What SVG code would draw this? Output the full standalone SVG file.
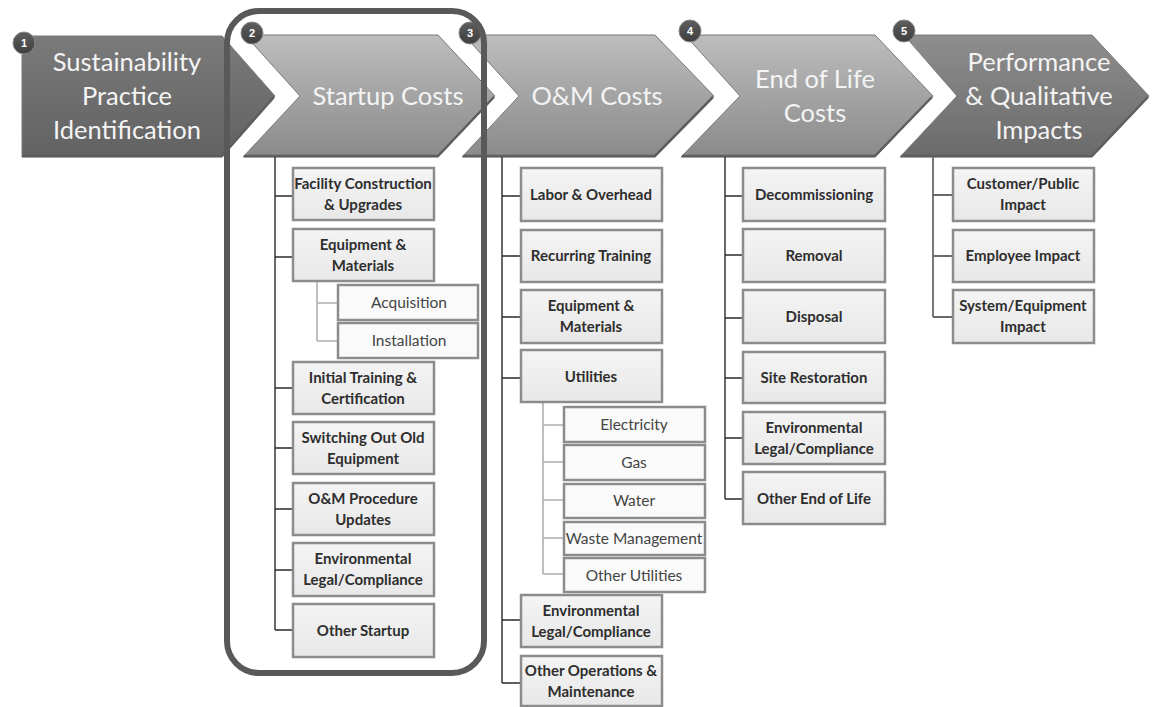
<svg xmlns="http://www.w3.org/2000/svg" width="1156" height="707" viewBox="0 0 1156 707">
<style>
.chev{stroke:#7a7a7a;stroke-width:1}
.edge{stroke:#5e5e5e;stroke-width:2.5;fill:none}
.ct{font-family:Lato,"Liberation Sans",sans-serif;font-size:25.5px;fill:#f4f4f4;text-anchor:middle}
.badge{fill:url(#gb);stroke:#888;stroke-width:1}
.bt{font-family:"Liberation Sans",sans-serif;font-size:11px;font-weight:bold;fill:#fff;text-anchor:middle}
.box{fill:url(#gbox);stroke:#8c8c8c;stroke-width:2.5}
.sub{fill:#fafafa;stroke:#8c8c8c;stroke-width:2.5}
.t{font-family:Lato,"Liberation Sans",sans-serif;font-size:15px;font-weight:bold;fill:#2e2e2e;text-anchor:middle}
.ts{font-family:Lato,"Liberation Sans",sans-serif;font-size:15.5px;fill:#444;text-anchor:middle}
.main{stroke:#2a2a2a;stroke-width:1.4;fill:none}
.minor{stroke:#b0b0b0;stroke-width:1.6;fill:none}
.grey{stroke:#6a6a6a;stroke-width:1.8;fill:none}
</style>
<defs>
<linearGradient id="g1" x1="0" y1="0" x2="0" y2="1"><stop offset="0" stop-color="#7a7a7a"/><stop offset="1" stop-color="#626262"/></linearGradient>
<linearGradient id="g2" x1="0" y1="0" x2="0" y2="1"><stop offset="0" stop-color="#bdbdbd"/><stop offset="1" stop-color="#8a8a8a"/></linearGradient>
<linearGradient id="g5" x1="0" y1="0" x2="0" y2="1"><stop offset="0" stop-color="#8e8e8e"/><stop offset="1" stop-color="#6a6a6a"/></linearGradient>
<linearGradient id="gb" x1="0" y1="0" x2="0" y2="1"><stop offset="0" stop-color="#5e5e5e"/><stop offset="1" stop-color="#3e3e3e"/></linearGradient>
<linearGradient id="gbox" x1="0" y1="0" x2="0" y2="1"><stop offset="0" stop-color="#f4f4f4"/><stop offset="1" stop-color="#e8e8e8"/></linearGradient>
</defs>
<rect width="1156" height="707" fill="#fff"/>

<g id="chevron1">
<polygon class="chev" fill="url(#g1)" points="22,36 222,36 275,96 222,157 22,157"/>
<path class="edge" d="M22,156H222L274,97"/>
<text class="ct" x="127" y="71">Sustainability</text>
<text class="ct" x="127" y="105">Practice</text>
<text class="ct" x="127" y="139">Identification</text>
<circle class="badge" cx="24" cy="43" r="11"/><text class="bt" x="24" y="47">1</text>
</g>
<g id="chevron2">
<polygon class="chev" fill="url(#g2)" points="245,35 438,35 495,96 438,157 243,157 300,96"/>
<path class="edge" d="M244,156H438L494,97"/>
<text class="ct" x="388" y="105">Startup Costs</text>
<circle class="badge" cx="252" cy="33" r="11"/><text class="bt" x="252" y="37">2</text>
</g>
<g id="chevron3">
<polygon class="chev" fill="url(#g2)" points="464,35 655,35 714,96 655,157 462,157 519,96"/>
<path class="edge" d="M463,156H655L713,97"/>
<text class="ct" x="597" y="105">O&amp;M Costs</text>
<circle class="badge" cx="470" cy="33" r="11"/><text class="bt" x="470" y="37">3</text>
</g>
<g id="chevron4">
<polygon class="chev" fill="url(#g2)" points="685,35 875,35 933,96 875,157 681,157 740,96"/>
<path class="edge" d="M682,156H875L932,97"/>
<text class="ct" x="815" y="88">End of Life</text>
<text class="ct" x="815" y="122">Costs</text>
<circle class="badge" cx="690" cy="31" r="11"/><text class="bt" x="690" y="35">4</text>
</g>
<g id="chevron5">
<polygon class="chev" fill="url(#g5)" points="904,35 1092,35 1149,96 1092,157 900,157 957,96"/>
<path class="edge" d="M901,156H1092L1148,97"/>
<text class="ct" x="1039" y="71">Performance</text>
<text class="ct" x="1039" y="105">&amp; Qualitative</text>
<text class="ct" x="1039" y="139">Impacts</text>
<circle class="badge" cx="904" cy="31" r="11"/><text class="bt" x="904" y="35">5</text>
</g>

<g id="connectors">
<path class="main" d="M275,157V630M275,196H293M275,257H293M275,388H293M275,448H293M275,509H293M275,570H293M275,630H293"/>
<path class="minor" d="M317,281V341M317,303H338M317,341H338"/>
<path class="main" d="M502,157V683M502,196H521M502,256H521M502,317H521M502,378H521M502,620H521M502,683H521"/>
<path class="minor" d="M543,402V574M543,425H564M543,462H564M543,500H564M543,538H564M543,574H564"/>
<path class="main" d="M725,157V499M725,196H743M725,255H743M725,318H743M725,378H743M725,438H743M725,499H743"/>
<path class="grey" d="M933,157V317M933,195H953M933,256H953M933,317H953"/>
</g>

<g id="s1"><rect class="box" x="293" y="168" width="141" height="52"/><text class="t" x="363" y="189">Facility Construction</text><text class="t" x="363" y="210">&amp; Upgrades</text></g>
<g id="s2"><rect class="box" x="293" y="229" width="141" height="52"/><text class="t" x="363" y="250">Equipment &amp;</text><text class="t" x="363" y="271">Materials</text></g>
<g id="s2a"><rect class="sub" x="338" y="285" width="140" height="35"/><text class="ts" x="409" y="308">Acquisition</text></g>
<g id="s2b"><rect class="sub" x="338" y="323" width="140" height="35"/><text class="ts" x="409" y="346">Installation</text></g>
<g id="s3"><rect class="box" x="293" y="362" width="141" height="52"/><text class="t" x="363" y="383">Initial Training &amp;</text><text class="t" x="363" y="404">Certification</text></g>
<g id="s4"><rect class="box" x="293" y="422" width="141" height="52"/><text class="t" x="363" y="443">Switching Out Old</text><text class="t" x="363" y="464">Equipment</text></g>
<g id="s5"><rect class="box" x="293" y="483" width="141" height="52"/><text class="t" x="363" y="504">O&amp;M Procedure</text><text class="t" x="363" y="525">Updates</text></g>
<g id="s6"><rect class="box" x="293" y="543" width="141" height="53"/><text class="t" x="363" y="564">Environmental</text><text class="t" x="363" y="585">Legal/Compliance</text></g>
<g id="s7"><rect class="box" x="293" y="604" width="141" height="53"/><text class="t" x="363" y="636">Other Startup</text></g>

<g id="o1"><rect class="box" x="521" y="168" width="141" height="53"/><text class="t" x="591" y="200">Labor &amp; Overhead</text></g>
<g id="o2"><rect class="box" x="521" y="230" width="141" height="52"/><text class="t" x="591" y="261">Recurring Training</text></g>
<g id="o3"><rect class="box" x="521" y="290" width="141" height="53"/><text class="t" x="591" y="311">Equipment &amp;</text><text class="t" x="591" y="332">Materials</text></g>
<g id="o4"><rect class="box" x="521" y="350" width="141" height="52"/><text class="t" x="591" y="382">Utilities</text></g>
<g id="o4a"><rect class="sub" x="564" y="407" width="141" height="35"/><text class="ts" x="634" y="430">Electricity</text></g>
<g id="o4b"><rect class="sub" x="564" y="445" width="141" height="35"/><text class="ts" x="634" y="468">Gas</text></g>
<g id="o4c"><rect class="sub" x="564" y="484" width="141" height="34"/><text class="ts" x="634" y="506">Water</text></g>
<g id="o4d"><rect class="sub" x="564" y="522" width="141" height="33"/><text class="ts" x="634" y="544">Waste Management</text></g>
<g id="o4e"><rect class="sub" x="564" y="558" width="141" height="34"/><text class="ts" x="634" y="581">Other Utilities</text></g>
<g id="o5"><rect class="box" x="521" y="595" width="141" height="52"/><text class="t" x="591" y="616">Environmental</text><text class="t" x="591" y="637">Legal/Compliance</text></g>
<g id="o6"><rect class="box" x="521" y="656" width="141" height="50"/><text class="t" x="591" y="676">Other Operations &amp;</text><text class="t" x="591" y="697">Maintenance</text></g>

<g id="e1"><rect class="box" x="743" y="168" width="142" height="53"/><text class="t" x="814" y="200">Decommissioning</text></g>
<g id="e2"><rect class="box" x="743" y="229" width="142" height="53"/><text class="t" x="814" y="261">Removal</text></g>
<g id="e3"><rect class="box" x="743" y="290" width="142" height="53"/><text class="t" x="814" y="322">Disposal</text></g>
<g id="e4"><rect class="box" x="743" y="352" width="142" height="51"/><text class="t" x="814" y="383">Site Restoration</text></g>
<g id="e5"><rect class="box" x="743" y="412" width="142" height="52"/><text class="t" x="814" y="433">Environmental</text><text class="t" x="814" y="454">Legal/Compliance</text></g>
<g id="e6"><rect class="box" x="743" y="472" width="142" height="52"/><text class="t" x="814" y="504">Other End of Life</text></g>

<g id="p1"><rect class="box" x="953" y="168" width="141" height="53"/><text class="t" x="1023" y="189">Customer/Public</text><text class="t" x="1023" y="210">Impact</text></g>
<g id="p2"><rect class="box" x="953" y="230" width="141" height="52"/><text class="t" x="1023" y="261">Employee Impact</text></g>
<g id="p3"><rect class="box" x="953" y="290" width="141" height="53"/><text class="t" x="1023" y="311">System/Equipment</text><text class="t" x="1023" y="332">Impact</text></g>

<g id="highlight">
<rect x="227" y="11" width="257" height="662" rx="32" ry="32" fill="none" stroke="#595959" stroke-width="6"/>
</g>
</svg>
